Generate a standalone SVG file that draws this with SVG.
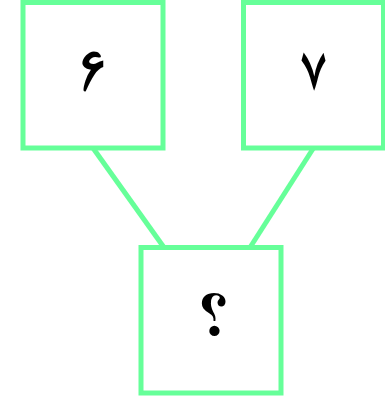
<svg xmlns="http://www.w3.org/2000/svg" width="385" height="402" viewBox="0 0 385 402">
<style>
.box{fill:#fff;stroke:#66ff99;stroke-width:5}
.edge{stroke:#66ff99;stroke-width:5;fill:none}
.lbl{font-family:"FreeSerif","Liberation Serif",serif;font-weight:bold;font-size:61px;text-anchor:middle;fill:#000}
</style>
<rect width="385" height="402" fill="#fff"/>
<g id="connectors">
<line class="edge" x1="93" y1="148" x2="164" y2="247.5"/>
<line class="edge" x1="313.5" y1="148" x2="250" y2="247.5"/>
</g>
<g id="n6">
<rect class="box" x="23" y="2.5" width="140" height="145.5"/>
<text class="lbl" x="93" y="90">۶</text>
</g>
<g id="n7">
<rect class="box" x="243.5" y="2.5" width="140" height="145.5"/>
<text class="lbl" x="313.5" y="90">۷</text>
</g>
<g id="nq">
<rect class="box" x="141" y="247.5" width="140" height="145.5"/>
<text class="lbl" x="213" y="335">؟</text>
</g>
</svg>
